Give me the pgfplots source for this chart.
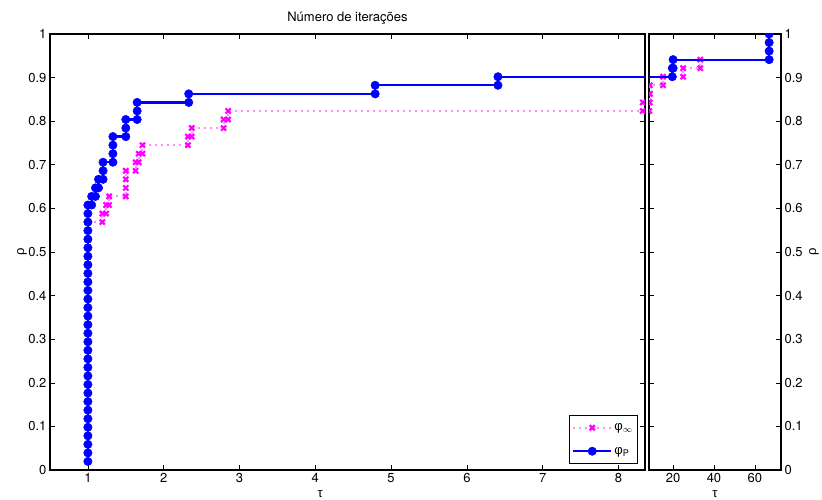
\documentclass[border=0pt]{standalone}
\usepackage{fontspec}
\setmainfont{TeX Gyre Heros}
\newfontfamily\gr{Liberation Sans}
\usepackage{pgfplots}
\usepackage{pgfplotstable}
\pgfplotsset{compat=1.18}
\definecolor{mgt}{RGB}{255,0,255}
\definecolor{mgtl}{RGB}{255,140,255}
\definecolor{blu}{RGB}{0,0,255}

\pgfplotstableread{
t r
1 0.0196
1 0.0392
1 0.0588
1 0.0784
1 0.0980
1 0.1176
1 0.1373
1 0.1569
1 0.1765
1 0.1961
1 0.2157
1 0.2353
1 0.2549
1 0.2745
1 0.2941
1 0.3137
1 0.3333
1 0.3529
1 0.3725
1 0.3922
1 0.4118
1 0.4314
1 0.4510
1 0.4706
1 0.4902
1 0.5098
1 0.5294
1 0.5490
1 0.5686
1 0.5882
1 0.6078
1.05 0.6078
1.05 0.6275
1.10 0.6275
1.10 0.6471
1.14 0.6471
1.14 0.6667
1.20 0.6667
1.20 0.6863
1.20 0.7059
1.33 0.7059
1.33 0.7255
1.33 0.7451
1.33 0.7647
1.50 0.7647
1.50 0.7843
1.50 0.8039
1.65 0.8039
1.65 0.8235
1.65 0.8431
2.33 0.8431
2.33 0.8627
4.79 0.8627
4.79 0.8824
6.41 0.8824
6.41 0.9020
19.6 0.9020
19.6 0.9216
20.0 0.9216
20.0 0.9412
67.0 0.9412
67.0 0.9608
67.0 0.9804
67.0 1.0000
}\bludata

\pgfplotstableread{
t r
1 0.5686
1.19 0.5686
1.19 0.5882
1.24 0.5882
1.24 0.6078
1.28 0.6078
1.28 0.6275
1.50 0.6275
1.50 0.6471
1.50 0.6667
1.50 0.6863
1.63 0.6863
1.63 0.7059
1.67 0.7059
1.67 0.7255
1.72 0.7255
1.72 0.7451
2.32 0.7451
2.32 0.7647
2.37 0.7647
2.37 0.7843
2.79 0.7843
2.79 0.8039
2.85 0.8039
2.85 0.8235
8.32 0.8235
8.32 0.8431
8.55 0.8431
8.55 0.8627
8.60 0.8627
8.60 0.8824
15.1 0.8824
15.1 0.9020
24.9 0.9020
24.9 0.9216
33.3 0.9216
33.3 0.9412
}\magdata

\begin{document}
\begin{tikzpicture}
\path[use as bounding box] (-50pt,-29pt) rectangle (772pt,470pt);
\pgfplotsset{
 every axis/.append style={
  scale only axis, height=436pt, ymin=0, ymax=1,
  ytick={0,0.1,0.2,0.3,0.4,0.5,0.6,0.7,0.8,0.9,1},
  tick align=inside,
  axis line style={line width=1.1pt},
  major tick style={line width=0.6pt, black},
  major tick length=5pt,
  tick label style={font=\fontsize{13}{15}\selectfont},
  label style={font=\fontsize{13}{15}\selectfont},
  title style={font=\fontsize{13}{15}\selectfont, yshift=0pt},
  /pgf/number format/assume math mode=true,
  clip marker paths=true,
 },
 bl/.style={draw=blu, line width=2.2pt, mark=*, mark size=4.2pt, mark options={solid, draw=blu, fill=blu, line width=0.5pt}},
 mg/.style={draw=mgtl, line width=2pt, dash pattern=on 2pt off 4pt, mark=x, mark size=3.6pt, mark options={solid, draw=mgt, line width=2.2pt}},
}
\begin{axis}[
  at={(0,0)}, anchor=south west, width=595pt,
  xmin=0.5, xmax=8.35, xtick={1,2,3,4,5,6,7,8},
  title={Número de iterações},
  xlabel={{\gr τ}}, ylabel={{\gr ρ}},
  xlabel style={at={(axis description cs:0.454,-0.056)}, anchor=center},
  ylabel style={at={(axis description cs:-0.047,0.5)}, anchor=center},
  legend style={at={(1,0)}, anchor=south east, xshift=-7pt, yshift=6pt,
    font=\fontsize{13}{15}\selectfont, draw=black, line width=1pt,
    row sep=11pt, inner ysep=6pt, inner xsep=3pt},
  legend cell align=left,
  legend image code/.code={\draw[mark repeat=2, mark phase=2] plot coordinates {(0pt,0pt) (19pt,0pt) (38pt,0pt)};},
]
\addplot[mg] table[x=t, y=r]{\magdata};
\addlegendentry{{\gr φ}$_\infty$}
\addplot[bl] table[x=t, y=r]{\bludata};
\addlegendentry{{\gr φ}\textsubscript{P}}
\end{axis}
\begin{axis}[
  at={(599pt,0)}, anchor=south west, width=132pt,
  xmin=8.2, xmax=72.8, xtick={20,40,60},
  yticklabel pos=right,
  xlabel={{\gr τ}}, ylabel={{\gr ρ}},
  xlabel style={at={(axis description cs:0.5,-0.056)}, anchor=center},
  ylabel style={at={(axis description cs:1.25,0.5)}, anchor=center},
]
\addplot[mg] table[x=t, y=r]{\magdata};
\addplot[bl] table[x=t, y=r]{\bludata};
\end{axis}
\end{tikzpicture}
\end{document}
